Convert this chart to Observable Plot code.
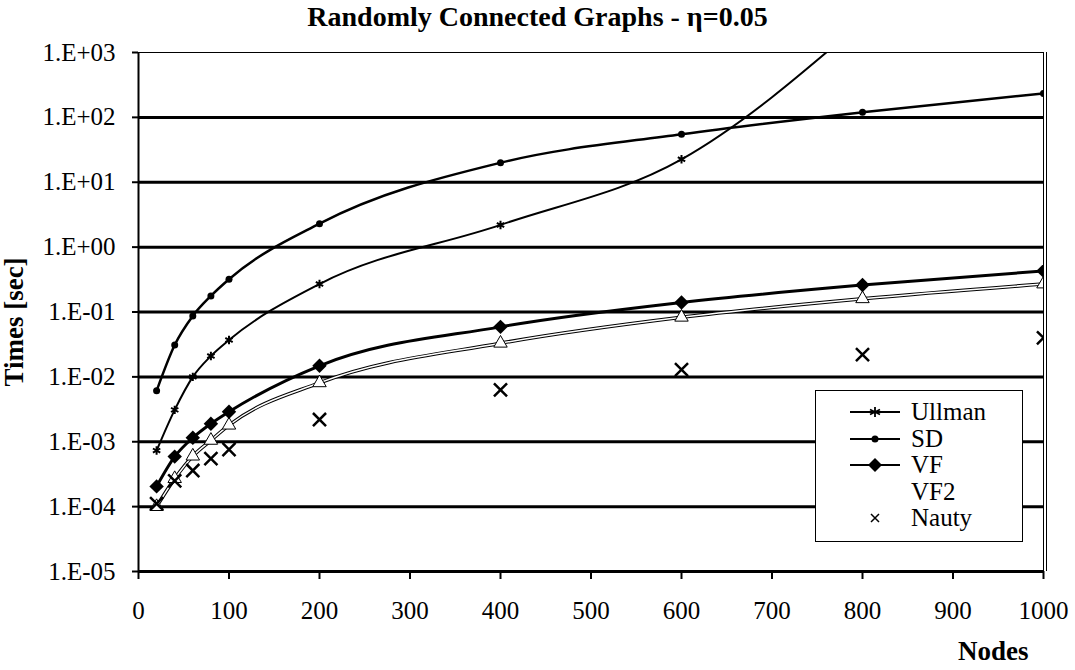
<!DOCTYPE html>
<html>
<head>
<meta charset="utf-8">
<script src="https://cdn.jsdelivr.net/npm/d3@7"></script>
<script src="https://cdn.jsdelivr.net/npm/@observablehq/plot@0.6"></script>
<style>
  html, body { margin: 0; padding: 0; background: #fff; }
  #wrap { position: relative; width: 1075px; height: 670px; font-family: 'Liberation Serif', 'Times New Roman', serif; color: #000; }
  #chart { position: absolute; left: 0; top: 0; }
  #chart svg, #chart svg text { font-family: 'Liberation Serif', 'Times New Roman', serif !important; }
  .title { position: absolute; left: 0; width: 1075px; top: 1px; text-align: center; font-weight: bold; font-size: 28px; }
  .ylab { position: absolute; left: 14px; top: 322px; transform: translate(-50%, -50%) rotate(-90deg); font-weight: bold; font-size: 27px; white-space: nowrap; }
  .xlab { position: absolute; left: 958px; top: 636px; font-weight: bold; font-size: 27px; }
  .legend { position: absolute; left: 815px; top: 390px; width: 206px; height: 150px; border: 1.5px solid #000; background: #fff; }
  .legend .row { position: absolute; left: 0; height: 24px; display: flex; align-items: center; font-size: 25px; line-height: 24px; }
  .legend svg { width: 56px; height: 24px; margin-left: 34px; margin-right: 5px; }
</style>
</head>
<body>
<div id="wrap">
  <div id="chart"></div>
  <div class="title">Randomly Connected Graphs - η=0.05</div>
  <div class="ylab">Times [sec]</div>
  <div class="xlab">Nodes</div>
  <div class="legend" id="legend"></div>
</div>
<script>
// ---- data ----
const nodes = [20, 40, 60, 80, 100, 200, 400, 600, 800, 1000];
const ullman = [0.00073, 0.0031, 0.0100, 0.021, 0.037, 0.27, 2.2, 22.6, 3000];
const sd     = [0.0061, 0.031, 0.087, 0.177, 0.32, 2.3, 20, 55, 120, 234];
const vf     = [0.000205, 0.00059, 0.00115, 0.0019, 0.0029, 0.0148, 0.059, 0.14, 0.26, 0.43];
const vf2    = [0.00010, 0.00027, 0.00060, 0.00105, 0.0018, 0.0081, 0.033, 0.083, 0.16, 0.27];
const nauty  = [0.000111, 0.00025, 0.00036, 0.00055, 0.00076, 0.0022, 0.0063, 0.0129, 0.022, 0.040];
const yTicks = [1e-5, 1e-4, 1e-3, 1e-2, 1e-1, 1e0, 1e1, 1e2, 1e3];
const xTicks = [0, 100, 200, 300, 400, 500, 600, 700, 800, 900, 1000];
const seriesNames = ["Ullman", "SD", "VF", "VF2", "Nauty"];

const toRows = vals => vals.map((v, i) => ({x: nodes[i], y: v}));
const U = toRows(ullman), S = toRows(sd), V = toRows(vf), V2 = toRows(vf2), N = toRows(nauty);

const fmt = d => {
  const e = Math.round(Math.log10(d));
  return "1.E" + (e < 0 ? "-" : "+") + String(Math.abs(e)).padStart(2, "0");
};

const curve = "monotone-x";
const chart = Plot.plot({
  width: 1075,
  height: 670,
  marginTop: 52,
  marginBottom: 99,
  marginLeft: 138,
  marginRight: 32,
  style: {fontFamily: "'Liberation Serif', 'Times New Roman', serif", fontSize: "25px", color: "#000", background: "#fff"},
  x: {domain: [0, 1000]},
  y: {type: "log", domain: [1e-5, 1e3]},
  marks: [
    Plot.ruleY(yTicks.slice(1, -1), {stroke: "#000", strokeWidth: 3}),
    Plot.ruleY([1e3], {stroke: "#000", strokeWidth: 1}),
    Plot.ruleX([1000], {stroke: "#000", strokeWidth: 1}),
    Plot.ruleX([1000], {stroke: "#000", strokeWidth: 1, dx: 3}),
    // Ullman
    Plot.line(U, {x: "x", y: "y", curve, stroke: "#000", strokeWidth: 2, clip: true}),
    Plot.dot(U, {x: "x", y: "y", symbol: "asterisk", r: 4, stroke: "#000", strokeWidth: 2, clip: true}),
    // SD
    Plot.line(S, {x: "x", y: "y", curve, stroke: "#000", strokeWidth: 2.5, clip: true}),
    Plot.dot(S, {x: "x", y: "y", symbol: "circle", r: 3.5, fill: "#000", clip: true}),
    // VF2 (double line: black outline, white core)
    Plot.line(V2, {x: "x", y: "y", curve, stroke: "#000", strokeWidth: 3.5, clip: true}),
    Plot.line(V2, {x: "x", y: "y", curve, stroke: "#fff", strokeWidth: 1.5, clip: true}),
    Plot.dot(V2, {x: "x", y: "y", symbol: "triangle", r: 5, fill: "#fff", stroke: "#000", strokeWidth: 1, clip: true}),
    // VF
    Plot.line(V, {x: "x", y: "y", curve, stroke: "#000", strokeWidth: 3, clip: true}),
    Plot.dot(V, {x: "x", y: "y", symbol: "diamond2", r: 6.5, fill: "#000", clip: true}),
    // Nauty (markers only)
    Plot.dot(N, {x: "x", y: "y", symbol: "times", r: 6, stroke: "#000", strokeWidth: 2.5, clip: true}),
    // axes
    Plot.ruleX([0], {stroke: "#000", strokeWidth: 2}),
    Plot.ruleY([1e-5], {stroke: "#000", strokeWidth: 3}),
    Plot.axisY(yTicks, {tickFormat: fmt, tickSize: 6, tickPadding: 17, strokeWidth: 2, label: null, fontSize: 25}),
    Plot.axisX(xTicks, {tickFormat: d => String(d), tickSize: 8, tickPadding: 22, strokeWidth: 2, label: null, fontSize: 25})
  ]
});
document.getElementById("chart").appendChild(chart);

// ---- legend ----
const icons = {
  Ullman: `<line x1="0" y1="12" x2="50" y2="12" stroke="#000" stroke-width="2"/><path d="M25,7V17M20,9.5L30,14.5M20,14.5L30,9.5" stroke="#000" stroke-width="1.8"/>`,
  SD: `<line x1="0" y1="12" x2="50" y2="12" stroke="#000" stroke-width="2"/><circle cx="25" cy="12" r="3.5" fill="#000"/>`,
  VF: `<line x1="0" y1="12" x2="50" y2="12" stroke="#000" stroke-width="2"/><path d="M25,5L32,12L25,19L18,12Z" fill="#000"/>`,
  VF2: ``,
  Nauty: `<path d="M21,8L29,16M21,16L29,8" stroke="#000" stroke-width="1.5"/>`
};
const leg = document.getElementById("legend");
seriesNames.forEach((name, i) => {
  const row = document.createElement("div");
  row.className = "row";
  row.style.top = (9 + i * 26.5) + "px";
  row.innerHTML = `<svg viewBox="0 0 56 24">${icons[name]}</svg><span>${name}</span>`;
  leg.appendChild(row);
});
</script>
</body>
</html>
